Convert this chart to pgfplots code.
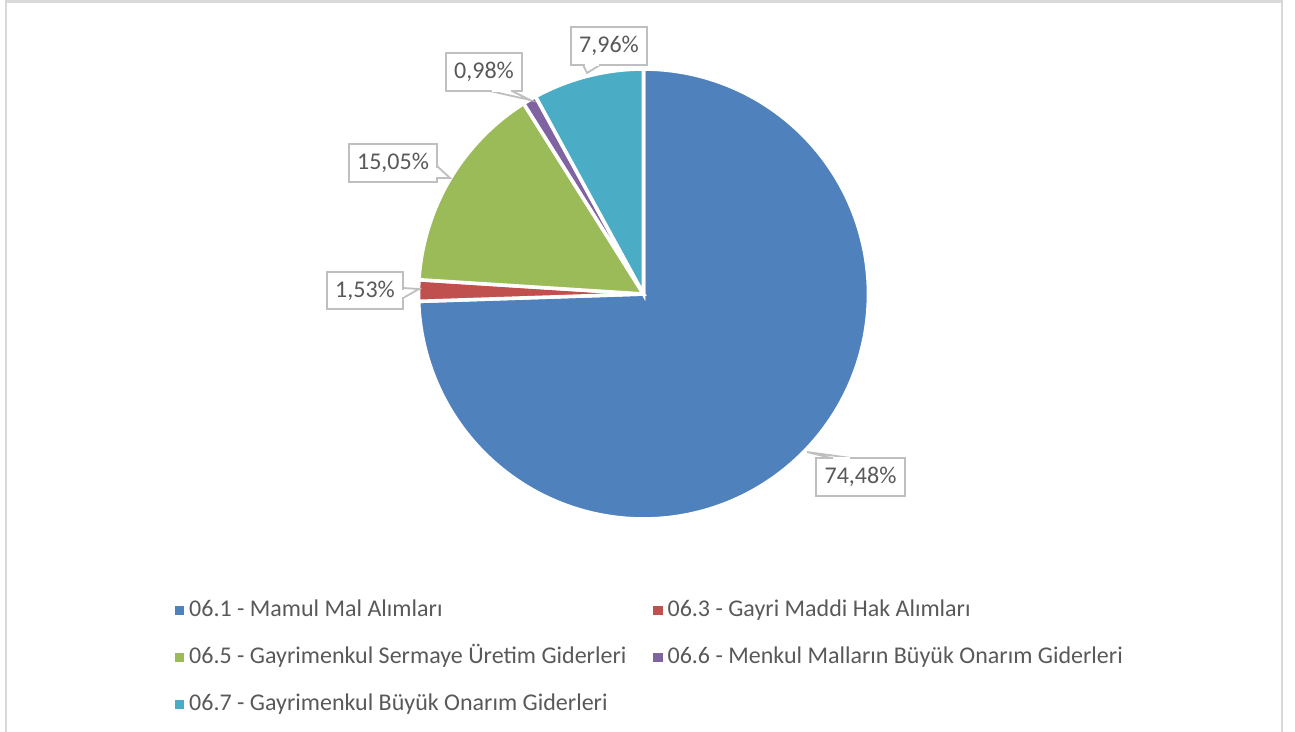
\documentclass[border=0pt]{standalone}
\usepackage{pgfplots}
\pgfplotsset{compat=1.18}
\usepackage{fontspec}
\setmainfont{Carlito}
\definecolor{c1}{HTML}{4F81BD}
\definecolor{c2}{HTML}{C0504D}
\definecolor{c3}{HTML}{9BBB59}
\definecolor{c4}{HTML}{8064A2}
\definecolor{c5}{HTML}{4BACC6}
\definecolor{txt}{HTML}{595959}
\definecolor{boxc}{HTML}{BFBFBF}
\definecolor{framec}{HTML}{D9D9D9}
% values (percent): 74.48, 1.53, 15.05, 0.98, 7.96 ; angle = 90 - 3.6*cumulative
\newcommand{\callout}[9]{% text, x1,y1,x2,y2 (box), tip x,y, base1 x, base2 x  (pointer on horizontal edge)
}
\begin{document}
\begin{tikzpicture}
\begin{axis}[
  x=0.5bp, y=0.5bp,
  xmin=0, xmax=1295, ymin=0, ymax=731,
  y dir=reverse,
  hide axis, clip=false,
  legend columns=2,
  legend cell align=left,
  legend image code/.code={\path[#1, draw=none] (0bp,-2.3bp) rectangle (4.6bp,2.3bp);},
  legend style={
    at={(axis cs:175,599.5)}, anchor=north west,
    draw=none, fill=none, inner sep=0pt, outer sep=0pt,
    font=\fontsize{12bp}{14bp}\selectfont\color{txt},
    nodes={inner sep=0pt, outer sep=0pt, text height=8.5bp, text depth=2.5bp},
    row sep=12.5bp,
    /tikz/every odd column/.append style={column sep=2.5bp},
    /tikz/every even column/.append style={column sep=13.5bp},
  },
]
\addplot[fill=c1, draw=white, line width=1.8bp, domain=-178.128:90, samples=200, variable=\t]
  ({643.5+225*cos(t)},{294-225*sin(t)}) -- (axis cs:643.5,294) -- cycle;
\addlegendentry{06.1 - Mamul Mal Alımları}
\addplot[fill=c2, draw=white, line width=1.8bp, domain=-183.636:-178.128, samples=10, variable=\t]
  ({643.5+225*cos(t)},{294-225*sin(t)}) -- (axis cs:643.5,294) -- cycle;
\addlegendentry{06.3 - Gayri Maddi Hak Alımları}
\addplot[fill=c3, draw=white, line width=1.8bp, domain=-237.816:-183.636, samples=60, variable=\t]
  ({643.5+225*cos(t)},{294-225*sin(t)}) -- (axis cs:643.5,294) -- cycle;
\addlegendentry{06.5 - Gayrimenkul Sermaye Üretim Giderleri}
\addplot[fill=c4, draw=white, line width=1.8bp, domain=-241.344:-237.816, samples=10, variable=\t]
  ({643.5+225*cos(t)},{294-225*sin(t)}) -- (axis cs:643.5,294) -- cycle;
\addlegendentry{06.6 - Menkul Malların Büyük Onarım Giderleri}
\addplot[fill=c5, draw=white, line width=1.8bp, domain=-270:-241.344, samples=40, variable=\t]
  ({643.5+225*cos(t)},{294-225*sin(t)}) -- (axis cs:643.5,294) -- cycle;
\addlegendentry{06.7 - Gayrimenkul Büyük Onarım Giderleri}

% frame
\draw[framec, line width=1bp] (axis cs:6,745) -- (axis cs:6,1.5) -- (axis cs:1282,1.5) -- (axis cs:1282,745);

% data label callouts
\tikzset{lbl/.style={font=\fontsize{12bp}{14bp}\selectfont, text=txt}}
% 74,48%
\filldraw[fill=white, draw=boxc, line width=0.9bp] (axis cs:831,458) -- (axis cs:807,452) -- (axis cs:851,458);
\filldraw[fill=white, draw=boxc, line width=0.9bp] (axis cs:816,458) rectangle (axis cs:905,496);
\draw[white, line width=1.2bp] (axis cs:832.5,458) -- (axis cs:849.5,458);
\node[lbl] at (axis cs:860.5,477) {74,48\%};
% 1,53%
\filldraw[fill=white, draw=boxc, line width=0.9bp] (axis cs:403,288) -- (axis cs:419,289) -- (axis cs:403,298);
\filldraw[fill=white, draw=boxc, line width=0.9bp] (axis cs:327,272) rectangle (axis cs:403,309);
\draw[white, line width=1.2bp] (axis cs:403,289.5) -- (axis cs:403,296.5);
\node[lbl] at (axis cs:365,290.5) {1,53\%};
% 15,05%
\filldraw[fill=white, draw=boxc, line width=0.9bp] (axis cs:437,166) -- (axis cs:450,178) -- (axis cs:437,178);
\filldraw[fill=white, draw=boxc, line width=0.9bp] (axis cs:349,144) rectangle (axis cs:437,182);
\draw[white, line width=1.2bp] (axis cs:437,167.5) -- (axis cs:437,176.5);
\node[lbl] at (axis cs:393,163) {15,05\%};
% 0,98%
\filldraw[fill=white, draw=boxc, line width=0.9bp] (axis cs:490,91) -- (axis cs:530,100) -- (axis cs:512,91);
\filldraw[fill=white, draw=boxc, line width=0.9bp] (axis cs:446,53) rectangle (axis cs:522,91);
\draw[white, line width=1.2bp] (axis cs:491.5,91) -- (axis cs:510.5,91);
\node[lbl] at (axis cs:484,72) {0,98\%};
% 7,96%
\filldraw[fill=white, draw=boxc, line width=0.9bp] (axis cs:583,65) -- (axis cs:587,73) -- (axis cs:600,65);
\filldraw[fill=white, draw=boxc, line width=0.9bp] (axis cs:571,27) rectangle (axis cs:647,65);
\draw[white, line width=1.2bp] (axis cs:584.5,65) -- (axis cs:598.5,65);
\node[lbl] at (axis cs:609,46) {7,96\%};

\coordinate (BL) at (axis cs:0,731);
\coordinate (TR) at (axis cs:1295,0);
\end{axis}
\pgfresetboundingbox
\path (BL) rectangle (TR);
\end{tikzpicture}
\end{document}
